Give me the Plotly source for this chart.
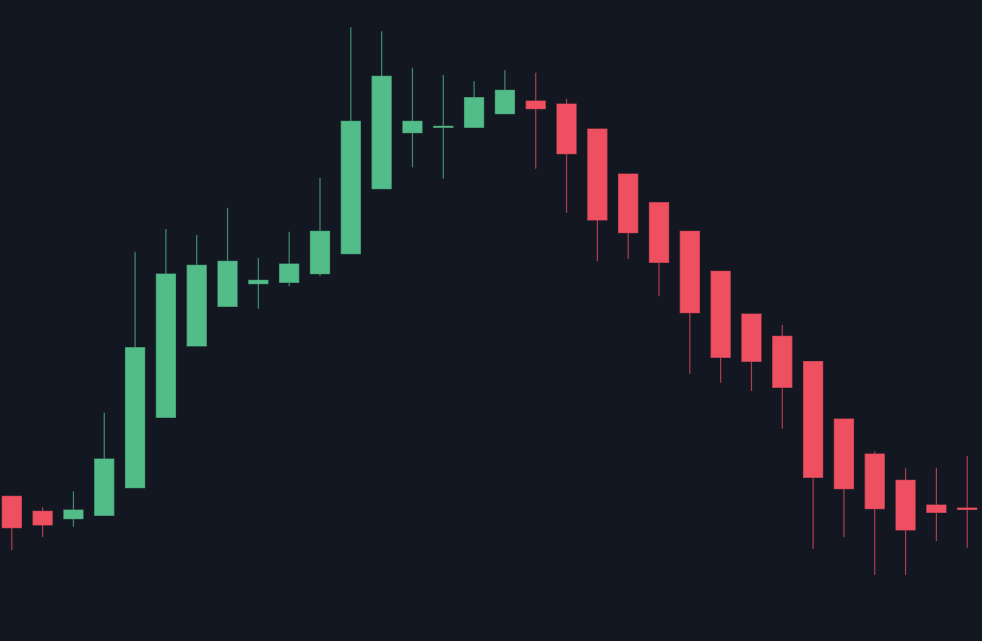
import plotly.graph_objects as go

# candle index (one per period)
periods = list(range(32))

opens = [14.47, 12.97, 12.23, 12.57, 15.33, 22.37, 29.50, 33.47, 35.73, 35.87,
         36.73, 38.73, 45.23, 50.83, 51.37, 51.37, 52.73, 54.00, 53.70, 51.20,
         46.70, 43.83, 40.97, 36.97, 32.70, 30.47, 27.95, 22.20, 18.70, 16.07,
         13.60, 13.30]
highs = [14.50, 13.37, 14.97, 22.83, 38.93, 41.20, 40.60, 43.33, 38.30, 40.93,
         46.30, 61.37, 60.97, 57.33, 56.60, 55.97, 57.10, 56.83, 54.20, 51.20,
         46.70, 43.83, 40.97, 36.97, 32.70, 31.60, 27.95, 22.20, 18.97, 17.30,
         17.33, 18.50]
lows = [9.10, 10.37, 11.43, 12.57, 15.33, 22.37, 29.50, 33.47, 33.23, 35.47,
        36.47, 38.73, 45.23, 47.37, 46.23, 51.37, 52.73, 47.23, 42.83, 37.97,
        38.23, 34.47, 26.73, 25.83, 25.00, 21.23, 9.23, 10.37, 6.63, 6.63,
        10.00, 9.33]
closes = [11.33, 11.60, 13.10, 18.20, 29.33, 36.70, 37.57, 37.97, 36.07, 37.70,
          40.97, 51.97, 56.47, 51.97, 51.47, 54.33, 55.07, 53.23, 48.73, 42.10,
          40.83, 37.87, 32.83, 28.37, 27.97, 25.37, 16.37, 15.23, 13.23, 11.10,
          12.87, 13.15]

BG = "#131722"
UP_FILL = "#53bd89"
UP_LINE = "rgba(83,189,137,0.7)"
DOWN_FILL = "#ef5061"
DOWN_LINE = "rgba(239,80,97,0.7)"

fig = go.Figure(data=[go.Candlestick(
    x=periods,
    open=opens,
    high=highs,
    low=lows,
    close=closes,
    increasing=dict(fillcolor=UP_FILL, line=dict(color=UP_LINE, width=1.2)),
    decreasing=dict(fillcolor=DOWN_FILL, line=dict(color=DOWN_LINE, width=1.2)),
    whiskerwidth=0,
    hoverinfo="skip",
)])

fig.update_layout(
    width=982,
    height=641,
    margin=dict(l=0, r=0, t=0, b=0),
    paper_bgcolor=BG,
    plot_bgcolor=BG,
    showlegend=False,
    boxgap=0.38,
    boxgroupgap=0,
    xaxis=dict(visible=False, range=[-0.383, 31.48], rangeslider=dict(visible=False)),
    yaxis=dict(visible=False, range=[0, 64.1]),
)

# page body has a default 8px margin, drop it so the chart fills the window
fig.write_html("out.html", config={"displayModeBar": False},
               post_script="document.body.style.margin='0';document.body.style.overflow='hidden';")
